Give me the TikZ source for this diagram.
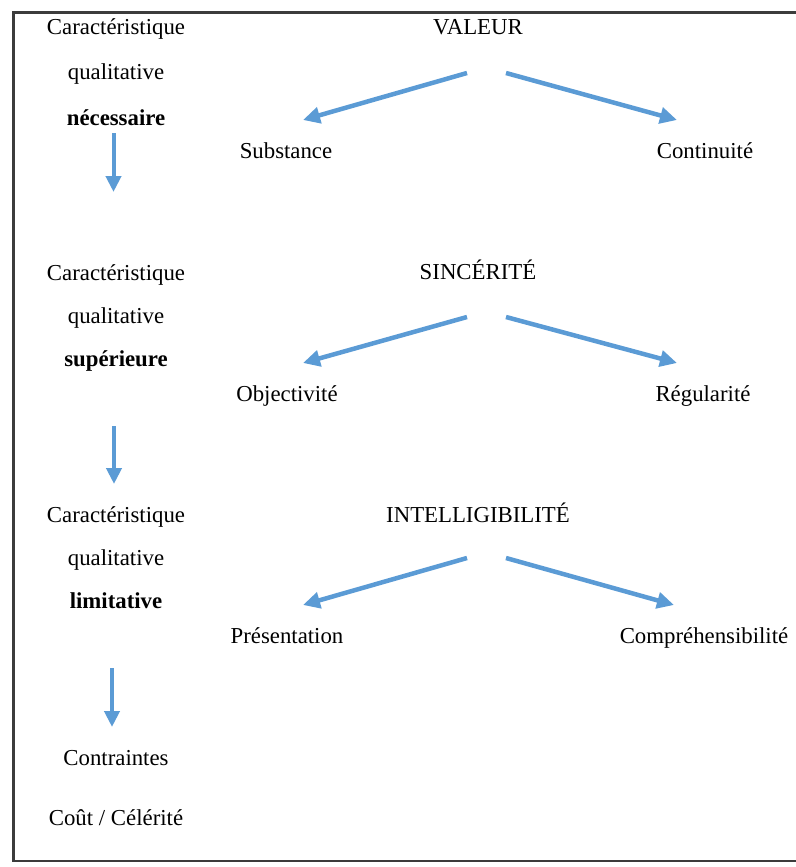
\documentclass[tikz,border=0pt]{standalone}
\usepackage{fontspec}
\setmainfont{Liberation Serif}
\usetikzlibrary{arrows.meta}
\definecolor{flowblue}{RGB}{91,155,213}
\definecolor{framegray}{RGB}{60,60,60}
\begin{document}
\begin{tikzpicture}[x=1pt,y=-1pt,
  lbl/.style={anchor=base,inner sep=0pt,font=\fontsize{22.8}{27}\selectfont},
  bold/.style={lbl,font=\fontsize{22.8}{27}\selectfont\bfseries},
  flow/.style={draw=flowblue,line width=4pt,
    -{Triangle[length=16pt,width=15pt,fill=flowblue]}},
  branch/.style={flow,line width=4.5pt,
    -{Triangle[length=17pt,width=16pt,fill=flowblue]}}]
\useasboundingbox (0,0) rectangle (795,867);
\draw[framegray,line width=2.4pt] (13.5,12.5) rectangle (797.5,861);

% left column: levels of qualitative characteristics
\node[lbl]  (c1a) at (116,35)  {Caractéristique};
\node[lbl]  (c1b) at (116,80)  {qualitative};
\node[bold] (c1c) at (116,125) {nécessaire};
\node[lbl]  (c2a) at (116,280) {Caractéristique};
\node[lbl]  (c2b) at (116,323) {qualitative};
\node[bold] (c2c) at (116,366) {supérieure};
\node[lbl]  (c3a) at (116,522) {Caractéristique};
\node[lbl]  (c3b) at (116,565) {qualitative};
\node[bold] (c3c) at (116,608) {limitative};
\node[lbl]  (k1)  at (116,765) {Contraintes};
\node[lbl]  (k2)  at (116,825) {Coût / Célérité};

\coordinate (d1s) at (113.5,133); \coordinate (d1e) at (113.5,192);
\coordinate (d2s) at (114,426);   \coordinate (d2e) at (114,484);
\coordinate (d3s) at (112,668);   \coordinate (d3e) at (112,727);
\draw[flow] (d1s) -- (d1e);
\draw[flow] (d2s) -- (d2e);
\draw[flow] (d3s) -- (d3e);

% right side: principles and their components
\node[lbl] (val) at (478,35)  {VALEUR};
\node[lbl] (sub) at (286,158) {Substance};
\node[lbl] (con) at (705,158) {Continuité};
\node[lbl] (sin) at (478,279) {SINCÉRITÉ};
\node[lbl] (obj) at (287,401) {Objectivité};
\node[lbl] (reg) at (703,401) {Régularité};
\node[lbl] (int) at (478,522) {INTELLIGIBILITÉ};
\node[lbl] (pre) at (287,643) {Présentation};
\node[lbl] (com) at (704,643) {Compréhensibilité};

\coordinate (v0) at (467,73);  \coordinate (v1) at (303,120);
\coordinate (v2) at (506,73);  \coordinate (v3) at (677,120);
\coordinate (s0) at (467,317); \coordinate (s1) at (303,363);
\coordinate (s2) at (506,317); \coordinate (s3) at (677,363);
\coordinate (i0) at (467,558); \coordinate (i1) at (303,605);
\coordinate (i2) at (506,558); \coordinate (i3) at (674,605);
\draw[branch] (v0) -- (v1);
\draw[branch] (v2) -- (v3);
\draw[branch] (s0) -- (s1);
\draw[branch] (s2) -- (s3);
\draw[branch] (i0) -- (i1);
\draw[branch] (i2) -- (i3);
\end{tikzpicture}
\end{document}
